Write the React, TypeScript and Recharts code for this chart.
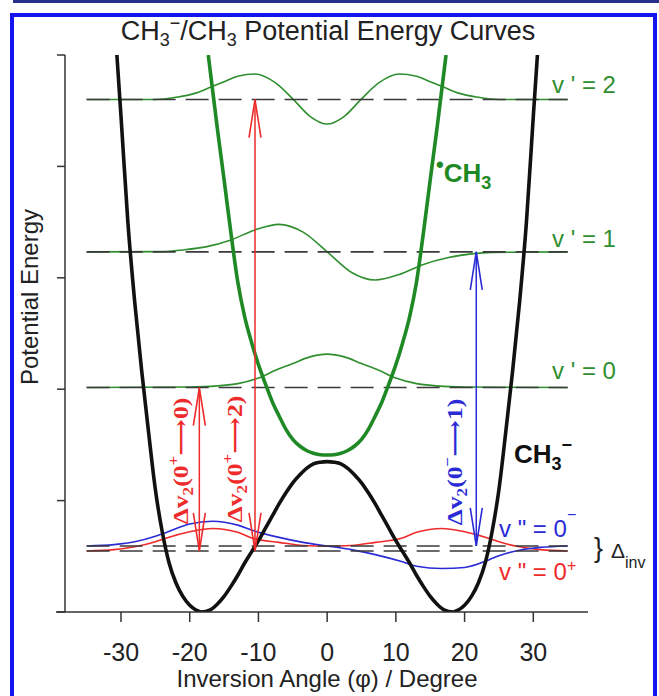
import React from "react";
import { LineChart, Line, XAxis, YAxis, ReferenceLine } from "recharts";

const W = 659;
const H = 696;

const X_TICKS = [-30, -20, -10, 0, 10, 20, 30];
const Y_TICKS = [0, 1, 2, 3, 4, 5];

// CH3- double well (inversion angle in degrees, energy in axis units)
const ANION_PHI = [-30.6, -30, -29, -28, -27, -26, -25, -24, -23, -22, -21, -20, -19, -18.3, -17, -16, -15, -14, -13, -12, -11, -10, -9, -8, -7, -6, -5, -4, -3, -2, -1, 0, 1, 2, 3, 4, 5, 6, 7, 8, 9, 10, 11, 12, 13, 14, 15, 16, 17, 18.3, 19, 20, 21, 22, 23, 24, 25, 26, 27, 28, 29, 30, 30.6];
const ANION_E = [5.0, 4.45, 3.5, 2.78, 2.17, 1.62, 1.1, 0.72, 0.44, 0.26, 0.14, 0.06, 0.015, 0, 0.02, 0.07, 0.14, 0.23, 0.33, 0.44, 0.54, 0.64, 0.75, 0.86, 0.97, 1.07, 1.16, 1.23, 1.29, 1.33, 1.345, 1.35, 1.345, 1.33, 1.29, 1.23, 1.16, 1.07, 0.97, 0.86, 0.75, 0.64, 0.54, 0.44, 0.33, 0.23, 0.14, 0.07, 0.02, 0, 0.015, 0.06, 0.14, 0.26, 0.44, 0.72, 1.1, 1.62, 2.17, 2.78, 3.5, 4.45, 5.0];

// CH3 radical well
const RADICAL_PHI = [-17.3, -16, -15, -14, -13, -12, -11, -10, -9, -8, -7, -6, -5, -4, -3, -2, -1, 0, 1, 2, 3, 4, 5, 6, 7, 8, 9, 10, 11, 12, 13, 14, 15, 16, 17.3];
const RADICAL_E = [5.0, 4.35, 3.88, 3.4, 2.96, 2.65, 2.42, 2.22, 2.05, 1.89, 1.76, 1.64, 1.55, 1.49, 1.45, 1.425, 1.412, 1.41, 1.412, 1.425, 1.45, 1.49, 1.55, 1.64, 1.76, 1.89, 2.05, 2.22, 2.42, 2.65, 2.96, 3.4, 3.88, 4.35, 5.0];

// neutral vibrational wavefunctions v' = 2, 1, 0
const WAVE2_PHI = [-35, -25, -22, -19, -17, -15, -13, -10.5, -7.5, -4.9, -2.5, 0, 2.5, 4.9, 7.5, 10.5, 13, 15, 17, 19, 22, 25, 35];
const WAVE2_E = [4.6, 4.6, 4.62, 4.66, 4.71, 4.76, 4.81, 4.83, 4.75, 4.6, 4.45, 4.38, 4.45, 4.6, 4.75, 4.83, 4.81, 4.76, 4.71, 4.66, 4.62, 4.6, 4.6];

const WAVE1_PHI = [-35, -24, -21, -17.5, -14, -10.5, -7, -3.5, 0, 3.5, 7, 10.5, 14, 17.5, 21, 24, 35];
const WAVE1_E = [3.233, 3.235, 3.25, 3.28, 3.34, 3.43, 3.48, 3.41, 3.233, 3.05, 2.98, 3.03, 3.12, 3.18, 3.215, 3.228, 3.233];

const WAVE0_PHI = [-35, -20, -16, -13, -10, -7.5, -5, -2.5, 0, 2.5, 5, 7.5, 10, 13, 16, 20, 35];
const WAVE0_E = [2.015, 2.02, 2.03, 2.05, 2.1, 2.17, 2.23, 2.29, 2.315, 2.29, 2.23, 2.17, 2.1, 2.05, 2.03, 2.02, 2.015];

// anion ground state 0+ (red) and 0- (blue)
const GROUND_PHI = [-35, -31, -28, -25, -23.6, -20, -16.7, -13, -10.7, -7, -3.5, 0, 3.5, 7, 10.7, 13, 16.7, 20, 23.6, 25, 28, 31, 35];
const PLUS_E = [0.548, 0.56, 0.585, 0.63, 0.66, 0.72, 0.75, 0.715, 0.66, 0.625, 0.597, 0.59, 0.597, 0.625, 0.66, 0.715, 0.75, 0.72, 0.66, 0.63, 0.585, 0.56, 0.548];
const MINUS_E = [0.593, 0.605, 0.63, 0.68, 0.71, 0.79, 0.815, 0.78, 0.73, 0.67, 0.625, 0.593, 0.56, 0.515, 0.455, 0.41, 0.39, 0.4, 0.47, 0.505, 0.555, 0.58, 0.593];

// dashed energy levels: v'=2, v'=1, v'=0, v"=0-, v"=0+
const LEVEL_E = [4.6, 3.233, 2.015, 0.593, 0.548];
const LEVEL_SPAN = [-35, 35];

// transitions
const ARROW_PHI = [-18.6, -10.5, 21.7];
const ARROW_FROM = [0.548, 0.548, 0.593];
const ARROW_TO = [2.015, 4.6, 3.233];

const RED = "#ee2a2a";
const BLUE = "#2b2bd6";
const GREEN = "#1f8a25";
const WAVE_GREEN = "#2f8f2f";
const AXIS = "#333";
const ARROW_COLOR = [RED, RED, BLUE];

const pts = (xs: number[], ys: number[]) => xs.map((x, i) => ({ x, e: ys[i] }));

const sans = "'Liberation Sans', Arial, sans-serif";
const serif = "'Liberation Serif', 'DejaVu Serif', 'Times New Roman', serif";

function arrowHead(color: string) {
  return (p: any) => {
    const { cx, cy, index } = p;
    const d = index === 0 ? -38 : 38;
    return (
      <path
        key={`ah-${index}`}
        d={`M${cx - 6},${cy + d}L${cx},${cy}L${cx + 6},${cy + d}`}
        fill="none"
        stroke={color}
        strokeWidth={1.6}
      />
    );
  };
}

// rotated transition label, stretched a little along the text like the original
function RotLabel({ x, y, color, top, end }: { x: number; y: number; color: string; top: string; end: string }) {
  return (
    <text
      transform={`translate(${x},${y}) rotate(-90) scale(1.22,1)`}
      y={6.8}
      textAnchor="middle"
      fontFamily={serif}
      fontWeight="bold"
      fontSize={21}
      fill={color}
    >
      Δv<tspan fontSize={14} dy={5}>2</tspan>
      <tspan dy={-5}>(0</tspan>
      <tspan fontSize={14} dy={-10}>{top}</tspan>
      <tspan dy={10}>⟶{end})</tspan>
    </text>
  );
}

export default function App() {
  const levels = LEVEL_E.map((e) => pts(LEVEL_SPAN, [e, e]));
  const arrows = ARROW_PHI.map((x, i) => pts([x, x], [ARROW_FROM[i], ARROW_TO[i]]));

  return (
    <div style={{ position: "absolute", left: 0, top: 0, width: W, height: H, background: "#fff", overflow: "hidden" }}>
      <div style={{ position: "absolute", left: 13, top: 0, width: W - 13, height: 3, background: "#28308c" }} />
      <div style={{ position: "absolute", left: 10, top: 13, width: 647, height: H, boxSizing: "border-box", border: "4px solid #1414f0" }} />
      <div style={{ position: "absolute", left: 0, top: 0 }}>
        <LineChart width={W} height={H} margin={{ top: 55, right: 71, bottom: 54, left: 56 }}>
          <XAxis
            type="number"
            dataKey="x"
            domain={[-38.15, 37.96]}
            allowDataOverflow
            ticks={X_TICKS}
            interval={0}
            height={30}
            tickSize={10}
            tickMargin={21}
            tick={{ fontSize: 25, fill: "#222", fontFamily: sans }}
            axisLine={{ stroke: AXIS, strokeWidth: 1.5 }}
            tickLine={{ stroke: AXIS, strokeWidth: 1.5 }}
          />
          <YAxis
            type="number"
            domain={[0, 5]}
            allowDataOverflow
            ticks={Y_TICKS}
            interval={0}
            width={9}
            tickSize={8}
            tickFormatter={() => ""}
            axisLine={{ stroke: AXIS, strokeWidth: 1.5 }}
            tickLine={{ stroke: AXIS, strokeWidth: 1.5 }}
          />
          <ReferenceLine
            segment={[{ x: -39.46, y: 0 }, { x: -38.15, y: 0 }]}
            ifOverflow="visible"
            stroke={AXIS}
            strokeWidth={1.5}
          />

          <Line data={pts(WAVE2_PHI, WAVE2_E)} dataKey="e" type="monotone" stroke={WAVE_GREEN} strokeWidth={1.6} dot={false} activeDot={false} isAnimationActive={false} />
          <Line data={pts(WAVE1_PHI, WAVE1_E)} dataKey="e" type="monotone" stroke={WAVE_GREEN} strokeWidth={1.6} dot={false} activeDot={false} isAnimationActive={false} />
          <Line data={pts(WAVE0_PHI, WAVE0_E)} dataKey="e" type="monotone" stroke={WAVE_GREEN} strokeWidth={1.6} dot={false} activeDot={false} isAnimationActive={false} />
          <Line data={pts(GROUND_PHI, PLUS_E)} dataKey="e" type="monotone" stroke={RED} strokeWidth={1.6} dot={false} activeDot={false} isAnimationActive={false} />
          <Line data={pts(GROUND_PHI, MINUS_E)} dataKey="e" type="monotone" stroke={BLUE} strokeWidth={1.6} dot={false} activeDot={false} isAnimationActive={false} />

          {levels.map((d, i) => (
            <Line key={`lv${i}`} data={d} dataKey="e" type="linear" stroke="#3a3a3a" strokeWidth={1.6} strokeDasharray="23 10" dot={false} activeDot={false} isAnimationActive={false} />
          ))}

          <Line data={pts(RADICAL_PHI, RADICAL_E)} dataKey="e" type="monotone" stroke={GREEN} strokeWidth={3.6} dot={false} activeDot={false} isAnimationActive={false} />
          <Line data={pts(ANION_PHI, ANION_E)} dataKey="e" type="monotone" stroke="#111" strokeWidth={3.6} dot={false} activeDot={false} isAnimationActive={false} />

          {arrows.map((d, i) => (
            <Line key={`ar${i}`} data={d} dataKey="e" type="linear" stroke={ARROW_COLOR[i]} strokeWidth={1.5} dot={arrowHead(ARROW_COLOR[i])} activeDot={false} isAnimationActive={false} />
          ))}
        </LineChart>
      </div>

      <svg width={W} height={H} style={{ position: "absolute", left: 0, top: 0, pointerEvents: "none" }}>
        <text x={328} y={40} textAnchor="middle" fontFamily={sans} fontSize={27} fill="#222">
          CH<tspan fontSize={18} dy={6}>3</tspan>
          <tspan fontSize={18} dy={-17}>−</tspan>
          <tspan dy={11}>/CH</tspan>
          <tspan fontSize={18} dy={6}>3</tspan>
          <tspan dy={-6}> Potential Energy Curves</tspan>
        </text>

        <g fontFamily={sans} fontSize={24} fill={WAVE_GREEN}>
          <text x={552} y={93}>v ' = 2</text>
          <text x={552} y={247}>v ' = 1</text>
          <text x={552} y={379}>v ' = 0</text>
        </g>

        <text x={436} y={182} fontFamily={sans} fontWeight="bold" fontSize={26} fill={GREEN}>
          <tspan fontSize={22} dy={-10}>•</tspan>
          <tspan dy={10}>CH</tspan>
          <tspan fontSize={18} dy={7}>3</tspan>
        </text>

        <text x={514} y={463} fontFamily={sans} fontWeight="bold" fontSize={26} fill="#111">
          CH<tspan fontSize={18} dy={7}>3</tspan>
          <tspan fontSize={18} dy={-19}>−</tspan>
        </text>

        <text x={499} y={537} fontFamily={sans} fontSize={24} fill={BLUE}>
          v " = 0<tspan fontSize={16} dy={-17}>−</tspan>
        </text>
        <text x={499} y={580} fontFamily={sans} fontSize={24} fill={RED}>
          v " = 0<tspan fontSize={16} dy={-9}>+</tspan>
        </text>

        <text x={594} y={557} fontFamily={sans} fontSize={27} fill="#222">{"}"}</text>
        <text x={611} y={558} fontFamily={sans} fontSize={21} fill="#222">
          Δ<tspan fontSize={16} dy={10}>inv</tspan>
        </text>

        <RotLabel x={181} y={461} color={RED} top="+" end="0" />
        <RotLabel x={235} y={459} color={RED} top="+" end="2" />
        <RotLabel x={455} y={462} color={BLUE} top="−" end="1" />

        <text transform="translate(38,297) rotate(-90)" textAnchor="middle" fontFamily={sans} fontSize={24} fill="#222">
          Potential Energy
        </text>
        <text x={327} y={687} textAnchor="middle" fontFamily={sans} fontSize={24} fill="#222">
          Inversion Angle (φ) / Degree
        </text>
      </svg>
    </div>
  );
}
